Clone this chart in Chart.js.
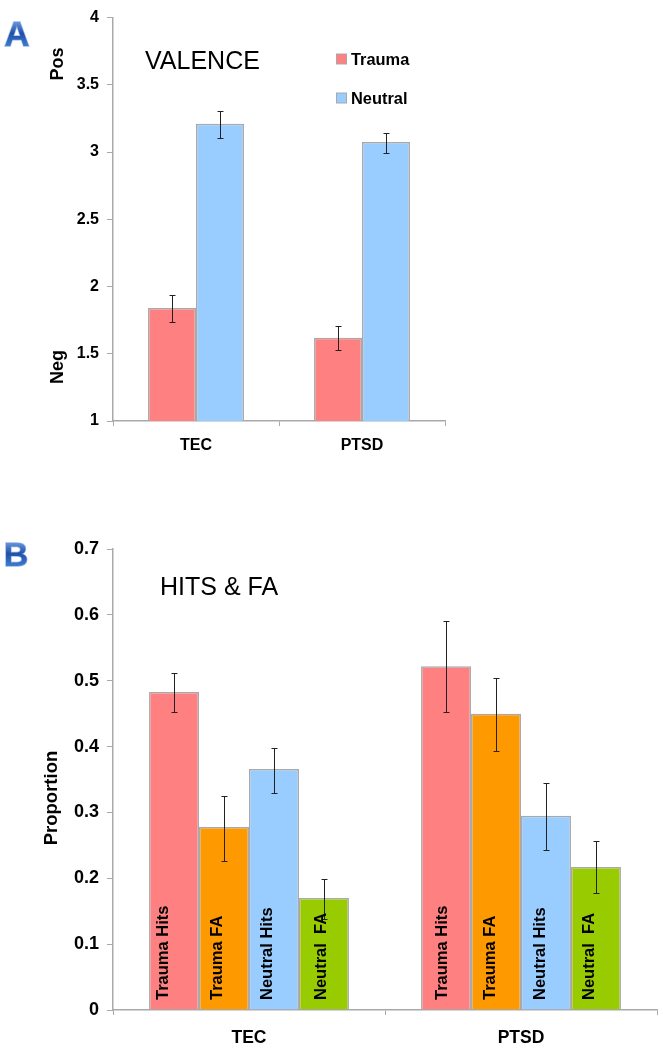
<!DOCTYPE html>
<html><head><meta charset="utf-8">
<style>html,body{margin:0;padding:0;background:#fff}
.w{position:absolute;left:0;width:663px}canvas{display:block}</style>
<script src="https://cdn.jsdelivr.net/npm/chart.js@4/dist/chart.umd.min.js"></script>
</head><body>
<div class="w" style="top:0;height:470px"><canvas id="a"></canvas></div>
<div class="w" style="top:500px;height:550px"><canvas id="b"></canvas></div>
<script>
const groups = ["TEC","PTSD"];
const valenceLabels = ["Trauma","Neutral"];
const valenceTrauma = [1.84,1.62];
const valenceNeutral = [3.21,3.075];
const valenceTraumaLow = [1.735,1.525], valenceTraumaHigh = [1.935,1.705];
const valenceNeutralLow = [3.105,2.99], valenceNeutralHigh = [3.305,3.145];
const hfLabels = ["Trauma Hits","Trauma FA","Neutral Hits","Neutral  FA"];
const traumaHits = [0.483,0.522], traumaHitsLow=[0.453,0.452], traumaHitsHigh=[0.512,0.59];
const traumaFA = [0.278,0.45], traumaFALow=[0.227,0.393], traumaFAHigh=[0.325,0.504];
const neutralHits = [0.366,0.295], neutralHitsLow=[0.33,0.243], neutralHitsHigh=[0.398,0.344];
const neutralFA = [0.17,0.217], neutralFALow=[0.138,0.177], neutralFAHigh=[0.199,0.256];
const RED="#ff8080",ORANGE="#ff9900",BLUE="#99ccff",GREEN="#99cc00",EDGE="#a9a9a9";
const SANS='"Liberation Sans",Arial,sans-serif';
Chart.defaults.font.family=SANS; Chart.defaults.color="#000"; Chart.defaults.animation=false;

function ds(label,data,low,high,color){return{label,data,low,high,backgroundColor:color,borderColor:EDGE,borderWidth:1.5,barPercentage:1};}

const errorBars={id:"errorBars",afterDatasetsDraw(c){
  const x=c.ctx,y=c.scales.y;x.save();x.strokeStyle="#222";x.lineWidth=1;
  c.data.datasets.forEach((d,i)=>{c.getDatasetMeta(i).data.forEach((b,j)=>{
    const px=Math.round(b.x)+.5,t=Math.round(y.getPixelForValue(d.high[j]))+.5,m=Math.round(y.getPixelForValue(d.low[j]))+.5;
    x.beginPath();x.moveTo(px,t);x.lineTo(px,m);x.moveTo(px-3,t);x.lineTo(px+3,t);x.moveTo(px-3,m);x.lineTo(px+3,m);x.stroke();
  });});x.restore();}};

function badge(x,ch,cx,base,size){
  const g=x.createLinearGradient(0,base-size*.72,0,base);g.addColorStop(0,"#6f9ce0");g.addColorStop(.5,"#1f50a8");g.addColorStop(1,"#3f7cd0");
  x.font="900 "+size+"px "+SANS;x.textAlign="center";x.textBaseline="alphabetic";x.lineWidth=1.5;x.strokeStyle="#9db9e6";
  x.strokeText(ch,cx,base);x.fillStyle=g;x.fillText(ch,cx,base);
}
function rot(x,t,cx,cy,font,align){x.save();x.translate(cx,cy);x.rotate(-Math.PI/2);x.font=font;x.textAlign=align||"center";x.textBaseline="middle";x.fillStyle="#000";x.fillText(t,0,0);x.restore();}

const textA={id:"textA",afterDraw(c){const x=c.ctx;x.save();
  badge(x,"A",17,46,35);
  x.fillStyle="#000";x.font="25px "+SANS;x.textAlign="left";x.textBaseline="alphabetic";x.fillText("VALENCE",145,69);
  rot(x,"Pos",58,64,"bold 18px "+SANS);rot(x,"Neg",58,367,"bold 18px "+SANS);
  const ly=[59,98];
  c.data.datasets.forEach((d,i)=>{
    x.fillStyle=d.backgroundColor;x.strokeStyle=EDGE;x.lineWidth=1;x.fillRect(336.5,ly[i]-5,10,10);x.strokeRect(336.5,ly[i]-5,10,10);
    x.fillStyle="#000";x.font="bold 16.4px "+SANS;x.textAlign="left";x.textBaseline="middle";x.fillText(d.label,351,ly[i]+1);
  });x.restore();}};
const offsets=[[-11,-7,-7,-3],[-4,-6,-6,-7]];
const textB={id:"textB",afterDraw(c){const x=c.ctx;x.save();
  badge(x,"B",16,66,34);
  x.fillStyle="#000";x.font="25px "+SANS;x.textAlign="left";x.textBaseline="alphabetic";x.fillText("HITS & FA",160,95);
  rot(x,"Proportion",52,298,"bold 18.5px "+SANS);
  c.data.datasets.forEach((d,i)=>{c.getDatasetMeta(i).data.forEach((b,j)=>{
    rot(x,d.label,b.x+offsets[j][i],500,"bold 16.5px "+SANS,"left");
  });});x.restore();}};

function chart(id,datasets,yo,cat,right,xH,top,tickFont,catFont,catPad,tickPad,plugin){
  datasets.forEach(d=>d.categoryPercentage=cat);
  return new Chart(document.getElementById(id),{type:"bar",data:{labels:groups,datasets},
  plugins:[errorBars,plugin],
  options:{responsive:false,maintainAspectRatio:false,
    layout:{padding:{left:0,right:right,top:top,bottom:0}},
    plugins:{legend:{display:false},tooltip:{enabled:false}},
    scales:{
      x:{afterFit(s){s.height=xH;},border:{color:EDGE,width:1.5},
        grid:{offset:true,drawOnChartArea:false,color:EDGE,tickLength:5,tickWidth:1},
        ticks:{font:{size:catFont,weight:"bold"},color:"#000",padding:catPad,maxRotation:0}},
      y:{...yo,afterFit(s){s.width=113;},border:{color:EDGE,width:1.5},
        grid:{drawOnChartArea:false,color:EDGE,tickLength:6,tickWidth:1},
        ticks:{...yo.ticks,callback:v=>String(+v.toFixed(1)),font:{size:tickFont,weight:"bold"},color:"#000",padding:tickPad}}
    }}});
}
function size(id,w,h){const e=document.getElementById(id);e.width=w;e.height=h;e.style.width=w+"px";e.style.height=h+"px";}
size("a",663,470);size("b",663,550);
chart("a",[ds(valenceLabels[0],valenceTrauma,valenceTraumaLow,valenceTraumaHigh,RED),ds(valenceLabels[1],valenceNeutral,valenceNeutralLow,valenceNeutralHigh,BLUE)],
  {min:1,max:4,ticks:{stepSize:.5}},0.578,218,49,16,16,16,10,8,textA);
chart("b",[ds(hfLabels[0],traumaHits,traumaHitsLow,traumaHitsHigh,RED),ds(hfLabels[1],traumaFA,traumaFALow,traumaFAHigh,ORANGE),ds(hfLabels[2],neutralHits,neutralHitsLow,neutralHitsHigh,BLUE),ds(hfLabels[3],neutralFA,neutralFALow,neutralFAHigh,GREEN)],
  {min:0,max:.7,ticks:{stepSize:.1}},0.735,6,40,49,18,17.5,13,8,textB);
</script></body></html>
